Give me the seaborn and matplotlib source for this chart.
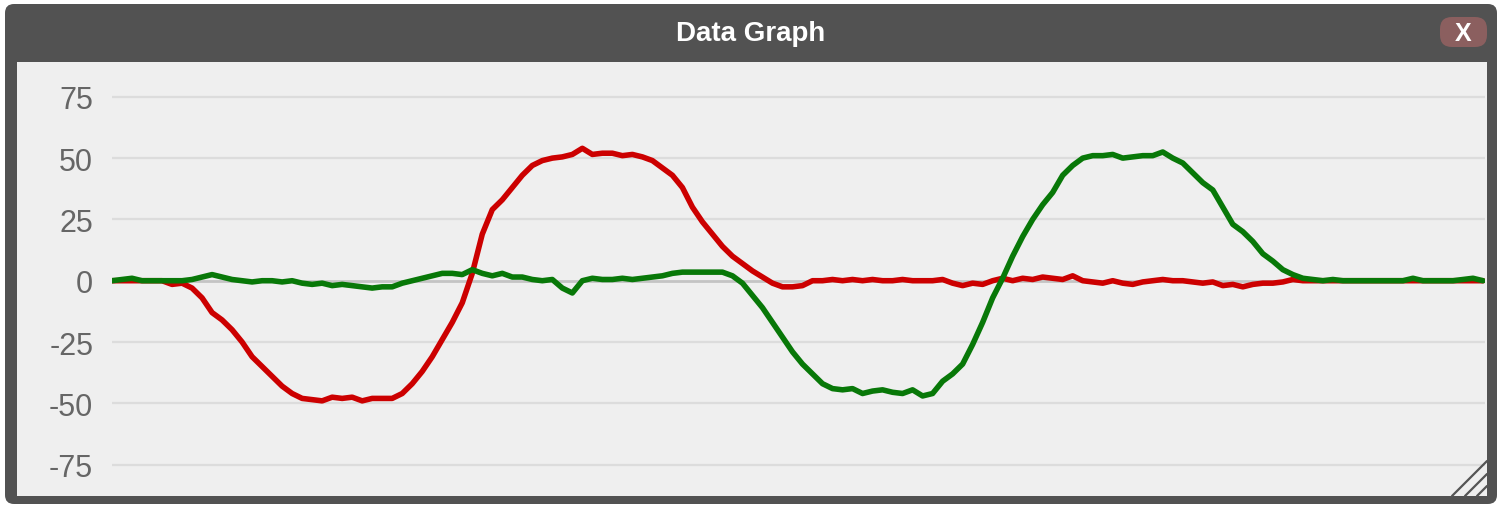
import numpy as np
import pandas as pd
import matplotlib
matplotlib.use("Agg")
import matplotlib.pyplot as plt
import seaborn as sns
from matplotlib.patches import FancyBboxPatch, Rectangle

# sample values (one sample every ~10 px)
red_vals = [
    0, 0, 0, 0, 0, 0, -1.5, -1, -3, -7,
    -13, -16, -20, -25, -31, -35, -39, -43, -46, -48,
    -48.5, -49, -47.5, -48, -47.5, -49, -48, -48, -48, -46,
    -42, -37, -31, -24, -17, -9, 3, 19, 29, 33,
    38, 43, 47, 49, 50, 50.5, 51.5, 54, 51.5, 52,
    52, 51, 51.5, 50.5, 49, 46, 43, 38, 30, 24,
    19, 14, 10, 7, 4, 1.5, -1, -2.5, -2.5, -2,
    0, 0, 0.5, 0, 0.5, 0, 0.5, 0, 0, 0.5,
    0, 0, 0, 0.5, -1, -2, -1, -1.5, 0, 1,
    0, 1, 0.5, 1.5, 1, 0.5, 2, 0, -0.5, -1,
    0, -1, -1.5, -0.5, 0, 0.5, 0, 0, -0.5, -1,
    -0.5, -2, -1.5, -2.5, -1.5, -1, -1, -0.5, 0.5, 0,
    0, 0, 0, 0, 0, 0, 0, 0, 0, 0,
    0, 0, 0, 0, 0, 0, 0, 0,
]
green_vals = [
    0, 0.5, 1, 0, 0, 0, 0, 0, 0.5, 1.5,
    2.5, 1.5, 0.5, 0, -0.5, 0, 0, -0.5, 0, -1,
    -1.5, -1, -2, -1.5, -2, -2.5, -3, -2.5, -2.5, -1,
    0, 1, 2, 3, 3, 2.5, 4.5, 3, 2, 3,
    1.5, 1.5, 0.5, 0, 0.5, -3, -5, 0, 1, 0.5,
    0.5, 1, 0.5, 1, 1.5, 2, 3, 3.5, 3.5, 3.5,
    3.5, 3.5, 2, -1, -6, -11, -17, -23, -29, -34,
    -38, -42, -44, -44.5, -44, -46, -45, -44.5, -45.5, -46,
    -44.5, -47, -46, -41, -38, -34, -26, -17, -7, 1,
    10, 18, 25, 31, 36, 43, 47, 50, 51, 51,
    51.5, 50, 50.5, 51, 51, 52.5, 50, 48, 44, 40,
    37, 30, 23, 20, 16, 11, 8, 4.5, 2.5, 1,
    0.5, 0, 0.5, 0, 0, 0, 0, 0, 0, 0,
    1, 0, 0, 0, 0, 0.5, 1, 0,
]
y_ticks = [75, 50, 25, 0, -25, -50, -75]
y_tick_labels = ["75", "50", "25", "0", "-25", "-50", "-75"]
title = "Data Graph"

sns.set_style("white")
plt.rcParams["font.family"] = ["Liberation Sans", "DejaVu Sans"]

n = len(red_vals)
df = pd.DataFrame({
    "sample": list(range(n)) * 2,
    "value": red_vals + green_vals,
    "series": ["red"] * n + ["green"] * n,
})

fig = plt.figure(figsize=(15.01, 5.06), dpi=100)
fig.patch.set_facecolor("white")

# window chrome drawn in pixel coords
bg = fig.add_axes([0, 0, 1, 1])
bg.set_xlim(0, 1501)
bg.set_ylim(506, 0)
bg.axis("off")
bg.add_patch(FancyBboxPatch((5, 5), 1492, 500, boxstyle="round,pad=0,rounding_size=9",
                            facecolor="#525252", edgecolor="none"))
bg.add_patch(Rectangle((17, 63), 1470, 434, facecolor="#efefef", edgecolor="none"))
bg.text(751, 34, title, color="white", fontsize=20, fontweight="bold",
        ha="center", va="center")
bg.add_patch(FancyBboxPatch((1440, 18), 47, 30, boxstyle="round,pad=0,rounding_size=12",
                            facecolor="#8b5f5f", edgecolor="none"))
bg.text(1463.5, 33.5, "X", color="white", fontsize=18, fontweight="bold",
        ha="center", va="center")

ax = fig.add_axes([112 / 1501, 9 / 506, 1373 / 1501, 434 / 506])
ax.set_facecolor("none")
sns.lineplot(data=df, x="sample", y="value", hue="series",
             palette={"red": "#cc0000", "green": "#087808"},
             linewidth=4.0, legend=False, ax=ax, zorder=3)
for ln in ax.get_lines():
    ln.set_solid_joinstyle("round")
    ln.set_solid_capstyle("round")

ax.set_xlim(0, n - 1 + 0.2)
ax.set_ylim(-87.8, 89.2)
ax.set_yticks(y_ticks)
ax.set_yticklabels(y_tick_labels)
ax.set_xticks([])
for t in y_ticks:
    ax.axhline(t, color="#c4c4c4" if t == 0 else "#dcdcdc",
               linewidth=2.0 if t == 0 else 1.6, zorder=1)
ax.tick_params(axis="y", length=0, pad=13.5, labelsize=22, labelcolor="#666666")
ax.set_xlabel("")
ax.set_ylabel("")
for s in ax.spines.values():
    s.set_visible(False)

# resize grip in the corner
grip = fig.add_axes([0, 0, 1, 1])
grip.set_xlim(0, 1501)
grip.set_ylim(506, 0)
grip.axis("off")
for x0, y1 in [(1452, 462), (1465, 475), (1477, 487)]:
    grip.plot([x0, 1487], [497, y1], color="#555555", linewidth=1.6)

fig.savefig("out.png", dpi=100, facecolor="white")
